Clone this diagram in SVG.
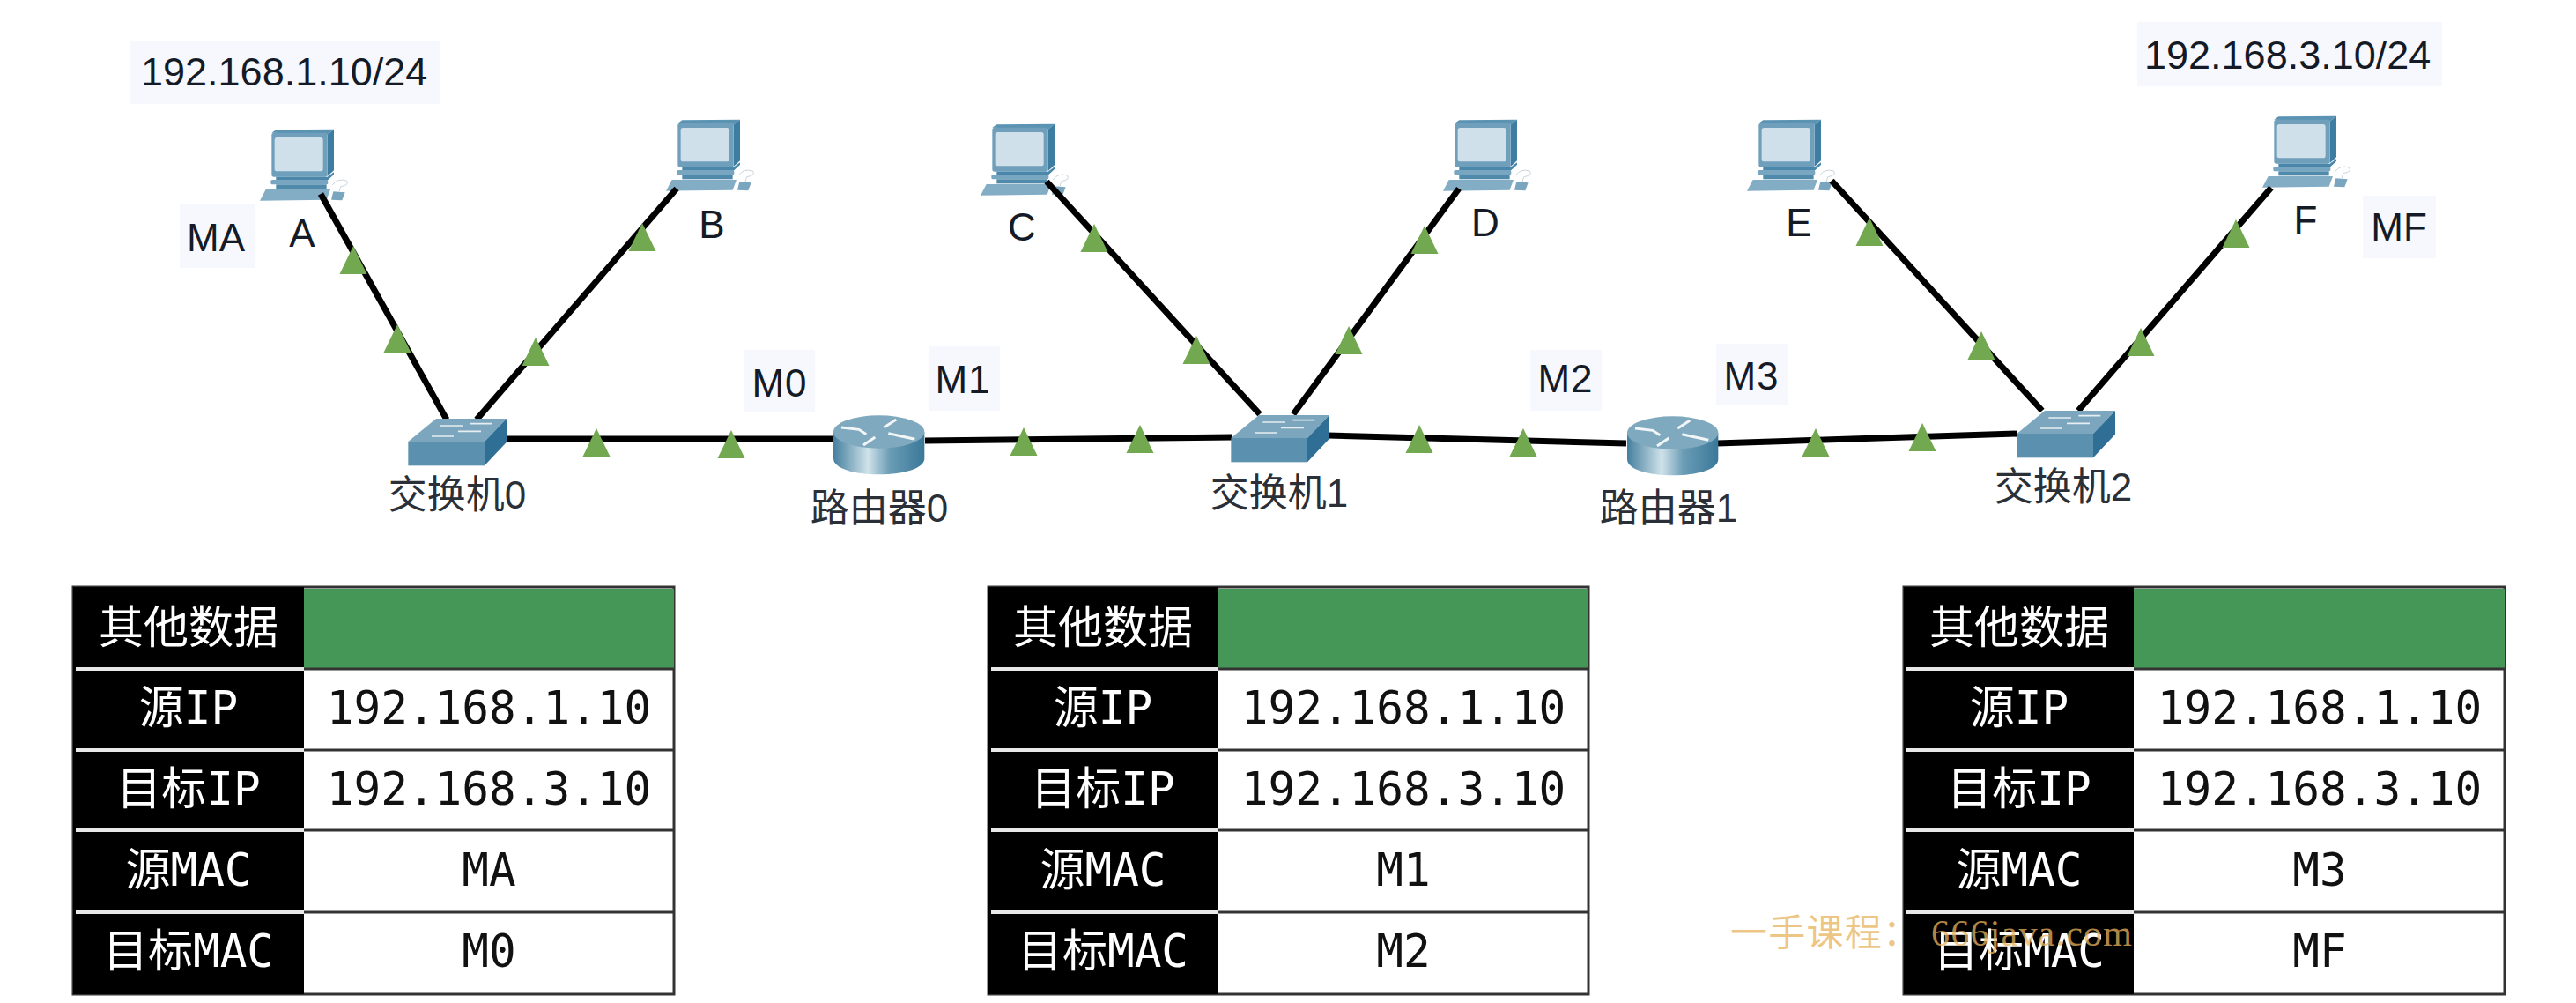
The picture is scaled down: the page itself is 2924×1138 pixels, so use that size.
<svg xmlns="http://www.w3.org/2000/svg" xmlns:xlink="http://www.w3.org/1999/xlink" width="2924" height="1138" viewBox="0 0 2924 1138">
<style>
.lbl{font-family:"Liberation Sans","Noto Sans CJK SC",sans-serif;font-size:44px;fill:#141a26;text-anchor:middle}
.cn{fill:#2b3038}
.ip{font-size:45px;text-anchor:start}
.patch{fill:#f7f8fd}
.link{stroke:#000;stroke-width:7;fill:none}
.h{font-family:"DejaVu Sans Mono","Noto Sans CJK SC",monospace;font-size:51px;fill:#fff;text-anchor:middle}
.v{font-family:"DejaVu Sans Mono",monospace;font-size:51px;fill:#111;text-anchor:middle}
.rowl{stroke:#e8e8e8;stroke-width:4}
.rowr{stroke:#333;stroke-width:3}
.frame{fill:#fff;stroke:#333;stroke-width:3}
.wm{font-family:"Liberation Serif","Noto Sans CJK SC",serif;font-size:42px;fill:#e8b45e;fill-opacity:.75}
</style>
<defs>
<linearGradient id="rg" x1="0" x2="1" y1="0" y2="0">
<stop offset="0" stop-color="#457f9e"/><stop offset=".38" stop-color="#cfe2ea"/><stop offset=".62" stop-color="#6a9cb5"/><stop offset="1" stop-color="#3a7899"/>
</linearGradient>
<g id="tri"><path d="M0,-16 L15.500,16 L-15.500,16 Z" fill="#72a850"/></g>
<g id="pc" transform="scale(.3333)">
<path d="M85,62 L100,52 L297,50 L275,68 Z" fill="#5b93b3"/>
<path d="M275,68 L297,50 L297,190 L275,210 Z" fill="#3d7da2"/>
<rect x="85" y="62" width="190" height="150" rx="8" fill="#6f9fbb"/>
<rect x="95" y="78" width="165" height="115" rx="8" fill="#d0e0ea"/>
<path d="M100,212 L275,212 L297,196 L297,204 L275,224 L100,224 Z" fill="#4a87aa"/>
<rect x="82" y="222" width="195" height="16" rx="5" fill="#78a6c0"/>
<rect x="100" y="238" width="172" height="15" fill="#4f8aab"/>
<path d="M65,255 L285,255 L272,290 L45,293 Z" fill="#82adc5"/>
<path d="M295,262 L335,265 L325,292 L288,290 Z" fill="#7aa5bf"/>
<path d="M292,240 Q310,215 340,225 Q352,240 320,245 L315,262" fill="none" stroke="#c8d4da" stroke-width="3"/>
</g>
<g id="sw" transform="scale(.3333)">
<path d="M70,153 L165,75 L405,75 L330,153 Z" fill="#7ca6be"/>
<rect x="70" y="153" width="260" height="82" fill="#5c90af"/>
<path d="M330,153 L405,75 L405,155 L330,235 Z" fill="#2f6f95"/>
<path d="M178,99 H255 M280,92 H355 M150,135 H225 M240,118 H318" stroke="#e6eef2" stroke-width="5" fill="none"/>
</g>
<g id="rt" transform="scale(.3333)">
<path d="M78,120 V210 C78,245 150,265 233,265 C316,265 388,245 388,210 V120 Z" fill="url(#rg)"/>
<ellipse cx="233" cy="120" rx="155" ry="56" fill="#7fa9be"/>
<path d="M105,105 L165,112 L190,128 M292,78 L250,105 M265,125 L355,145 M220,138 L180,165" stroke="#f2f6f8" stroke-width="9" fill="none"/>
</g>
</defs>
<rect width="2924" height="1138" fill="#fff"/>
<g id="label-patches">
<rect class="patch" x="148" y="47" width="352" height="71"/>
<rect class="patch" x="204" y="232" width="86" height="72"/>
<rect class="patch" x="845" y="397" width="80" height="71"/>
<rect class="patch" x="1055" y="393" width="80" height="73"/>
<rect class="patch" x="1737" y="397" width="81" height="69"/>
<rect class="patch" x="1948" y="390" width="82" height="70"/>
<rect class="patch" x="2426" y="25" width="346" height="73"/>
<rect class="patch" x="2682" y="222" width="83" height="71"/>
</g>
<g id="pc-a"><use href="#pc" x="280" y="130"/><text class="lbl" x="343" y="280">A</text><text class="lbl" x="245" y="285">MA</text><text class="lbl ip" x="160" y="97">192.168.1.10/24</text></g>
<g id="pc-b"><use href="#pc" x="741" y="119"/><text class="lbl" x="808" y="270">B</text></g>
<g id="pc-c"><use href="#pc" x="1098" y="124"/><text class="lbl" x="1160" y="273">C</text></g>
<g id="pc-d"><use href="#pc" x="1623" y="119"/><text class="lbl" x="1686" y="268">D</text></g>
<g id="pc-e"><use href="#pc" x="1968" y="119"/><text class="lbl" x="2042" y="268">E</text></g>
<g id="pc-f"><use href="#pc" x="2553" y="115"/><text class="lbl" x="2617" y="265">F</text><text class="lbl" x="2723" y="273">MF</text><text class="lbl ip" x="2434" y="78">192.168.3.10/24</text></g>
<g id="connectors">
<path class="link" d="M364,220 L507,476"/><path class="link" d="M768,214 L541,476"/>
<path class="link" d="M572,498 L946,498"/><path class="link" d="M1050,500 L1399,496"/>
<path class="link" d="M1188,206 L1430,470"/><path class="link" d="M1656,214 L1468,470"/>
<path class="link" d="M1507,494 L1846,503"/><path class="link" d="M1949,503 L2290,492"/>
<path class="link" d="M2079,205 L2318,466"/><path class="link" d="M2578,213 L2359,466"/>
<use href="#tri" x="401" y="295"/><use href="#tri" x="451" y="384"/>
<use href="#tri" x="729" y="269"/><use href="#tri" x="608" y="399"/>
<use href="#tri" x="677" y="502"/><use href="#tri" x="830" y="504"/>
<use href="#tri" x="1162" y="501"/><use href="#tri" x="1294" y="498"/>
<use href="#tri" x="1242" y="270"/><use href="#tri" x="1358" y="397"/>
<use href="#tri" x="1617" y="272"/><use href="#tri" x="1531" y="386"/>
<use href="#tri" x="1611" y="498"/><use href="#tri" x="1729" y="502"/>
<use href="#tri" x="2061" y="502"/><use href="#tri" x="2182" y="496"/>
<use href="#tri" x="2122" y="263"/><use href="#tri" x="2249" y="392"/>
<use href="#tri" x="2538" y="265"/><use href="#tri" x="2430" y="388"/>
</g>
<g id="switch0"><use href="#sw" x="440" y="450"/><text class="lbl cn" x="519" y="577">交换机0</text></g>
<g id="switch1"><use href="#sw" x="1374" y="446"/><text class="lbl cn" x="1452" y="575">交换机1</text></g>
<g id="switch2"><use href="#sw" x="2266" y="441"/><text class="lbl cn" x="2342" y="568">交换机2</text></g>
<g id="router0"><use href="#rt" x="920" y="450"/><text class="lbl cn" x="998" y="592">路由器0</text><text class="lbl" x="885" y="450" letter-spacing="1">M0</text><text class="lbl" x="1093" y="446" letter-spacing="1">M1</text></g>
<g id="router1"><use href="#rt" x="1821" y="451"/><text class="lbl cn" x="1894" y="592">路由器1</text><text class="lbl" x="1777" y="445" letter-spacing="1">M2</text><text class="lbl" x="1988" y="442" letter-spacing="1">M3</text></g>

<g id="table0">
<rect class="frame" x="83" y="666" width="682" height="462"/>
<rect x="83" y="666" width="262" height="462" fill="#000"/>
<rect x="345" y="668" width="420" height="90" fill="#459758"/>
<path class="rowl" d="M86,759H345M86,851H345M86,942H345M86,1035H345"/>
<path class="rowr" d="M345,759H765M345,851H765M345,942H765M345,1035H765"/>
<text class="h" x="214" y="730">其他数据</text><text class="h" x="214" y="821">源IP</text><text class="h" x="214" y="913">目标IP</text><text class="h" x="214" y="1005">源MAC</text><text class="h" x="214" y="1097">目标MAC</text>
<text class="v" x="555" y="821">192.168.1.10</text><text class="v" x="555" y="913">192.168.3.10</text><text class="v" x="555" y="1005">MA</text><text class="v" x="555" y="1097">M0</text>
</g>
<g id="table1">
<rect class="frame" x="1122" y="666" width="681" height="462"/>
<rect x="1122" y="666" width="260" height="462" fill="#000"/>
<rect x="1382" y="668" width="421" height="90" fill="#459758"/>
<path class="rowl" d="M1125,759H1382M1125,851H1382M1125,942H1382M1125,1035H1382"/>
<path class="rowr" d="M1382,759H1803M1382,851H1803M1382,942H1803M1382,1035H1803"/>
<text class="h" x="1252" y="730">其他数据</text><text class="h" x="1252" y="821">源IP</text><text class="h" x="1252" y="913">目标IP</text><text class="h" x="1252" y="1005">源MAC</text><text class="h" x="1252" y="1097">目标MAC</text>
<text class="v" x="1593" y="821">192.168.1.10</text><text class="v" x="1593" y="913">192.168.3.10</text><text class="v" x="1593" y="1005">M1</text><text class="v" x="1593" y="1097">M2</text>
</g>
<g id="table2">
<rect class="frame" x="2161" y="666" width="682" height="462"/>
<rect x="2161" y="666" width="261" height="462" fill="#000"/>
<rect x="2422" y="668" width="421" height="90" fill="#459758"/>
<path class="rowl" d="M2164,759H2422M2164,851H2422M2164,942H2422M2164,1035H2422"/>
<path class="rowr" d="M2422,759H2843M2422,851H2843M2422,942H2843M2422,1035H2843"/>
<text class="h" x="2292" y="730">其他数据</text><text class="h" x="2292" y="821">源IP</text><text class="h" x="2292" y="913">目标IP</text><text class="h" x="2292" y="1005">源MAC</text><text class="h" x="2292" y="1097">目标MAC</text>
<text class="v" x="2633" y="821">192.168.1.10</text><text class="v" x="2633" y="913">192.168.3.10</text><text class="v" x="2633" y="1005">M3</text><text class="v" x="2633" y="1097">MF</text>
</g>
<text id="watermark" class="wm" x="1964" y="1073" textLength="456">一手课程： 666java.com</text>
</svg>
